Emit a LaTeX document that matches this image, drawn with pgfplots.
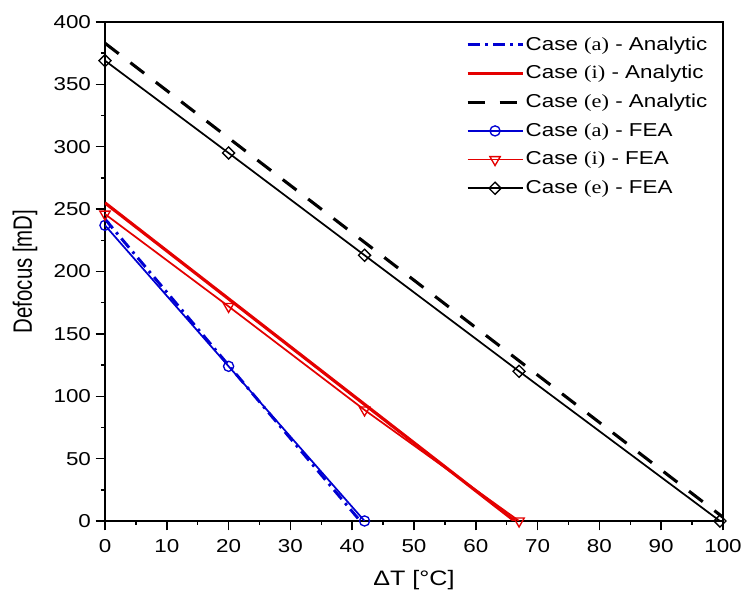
\documentclass[border=0pt]{standalone}
\usepackage{fontspec}
\setmainfont{Liberation Sans}[FakeStretch=1.2]
\newfontfamily\tnr{Liberation Serif}[FakeStretch=1.2]
\newfontfamily\plainsans{Liberation Sans}
\usepackage{pgfplots}
\pgfplotsset{compat=1.18}
\definecolor{cblue}{RGB}{0,0,210}
\definecolor{cred}{RGB}{228,0,0}
\begin{document}
\begin{tikzpicture}
\begin{axis}[
 scale only axis, width=463.5pt, height=374.25pt,
 xmin=0, xmax=100, ymin=0, ymax=400,
 xtick={0,10,...,100}, ytick={0,50,...,400},
 minor x tick num=1, minor y tick num=1,
 tick align=outside, xtick pos=bottom, ytick pos=left,
 major tick length=7pt, minor tick length=3pt,
 every tick/.style={black, line width=1.1pt},
 axis line style={line width=1.4pt},
 tick label style={font=\fontsize{14}{16}\selectfont},
 xticklabel style={yshift=-3pt},
 /pgf/number format/assume math mode=true,
 xlabel={ΔT [°C]}, ylabel={\scalebox{1}[1.3]{\plainsans Defocus [mD]}},
 every axis x label/.style={at={(axis description cs:0.5,-0.1182)}, anchor=center, font=\fontsize{15.7}{18}\selectfont},
 every axis y label/.style={at={(axis description cs:-0.1294,0.5)}, rotate=90, anchor=center, font=\fontsize{15.3}{18}\selectfont},
 legend cell align=left,
 legend style={draw=none, fill=none, at={(1,1)}, anchor=north east, xshift=-7.5pt, yshift=-6pt,
   font=\fontsize{14}{16}\selectfont, row sep=3.5pt,
   nodes={inner sep=1pt, text height=12pt, text depth=4pt}},
 legend image code/.code={\draw[mark repeat=2,mark phase=2] plot coordinates {(0cm,0cm) (0.72cm,0cm) (1.45cm,0cm)};},
]
\addplot[cblue, line width=2.2pt, dash pattern=on 9pt off 4pt on 2pt off 4pt] coordinates {(0,242) (41.3,0)};
\addlegendentry{Case {\tnr (a)} - Analytic}
\addplot[cred, line width=2.4pt] coordinates {(0,255) (66.3,0)};
\addlegendentry{Case {\tnr (i)} - Analytic}
\addplot[black, line width=2.3pt, dash pattern=on 13pt off 11pt] coordinates {(0,383) (100,3)};
\addlegendentry{Case {\tnr (e)} - Analytic}
\addplot[cblue, line width=1.3pt, mark=o, mark size=3.8pt, mark options={fill=white, line width=1pt}] coordinates {(0,237) (20,124) (42,0)};
\addlegendentry{Case {\tnr (a)} - FEA}
\addplot[cred, line width=1.3pt, mark=triangle, mark size=4.5pt, mark options={rotate=180, fill=white, line width=1pt}] coordinates {(0,246) (20,172) (42,89) (67,0)};
\addlegendentry{Case {\tnr (i)} - FEA}
\addplot[black, line width=1.3pt, mark=square, mark size=3.2pt, mark options={rotate=45, fill=white, line width=1pt}] coordinates {(0,369) (20,295) (42,213) (67,120) (99.5,0)};
\addlegendentry{Case {\tnr (e)} - FEA}
\end{axis}
\pgfresetboundingbox
\path (current axis.south west) ++(-78.75pt,-54.75pt) rectangle ([xshift=14.25pt,yshift=16.5pt]current axis.north east);
\end{tikzpicture}
\end{document}
